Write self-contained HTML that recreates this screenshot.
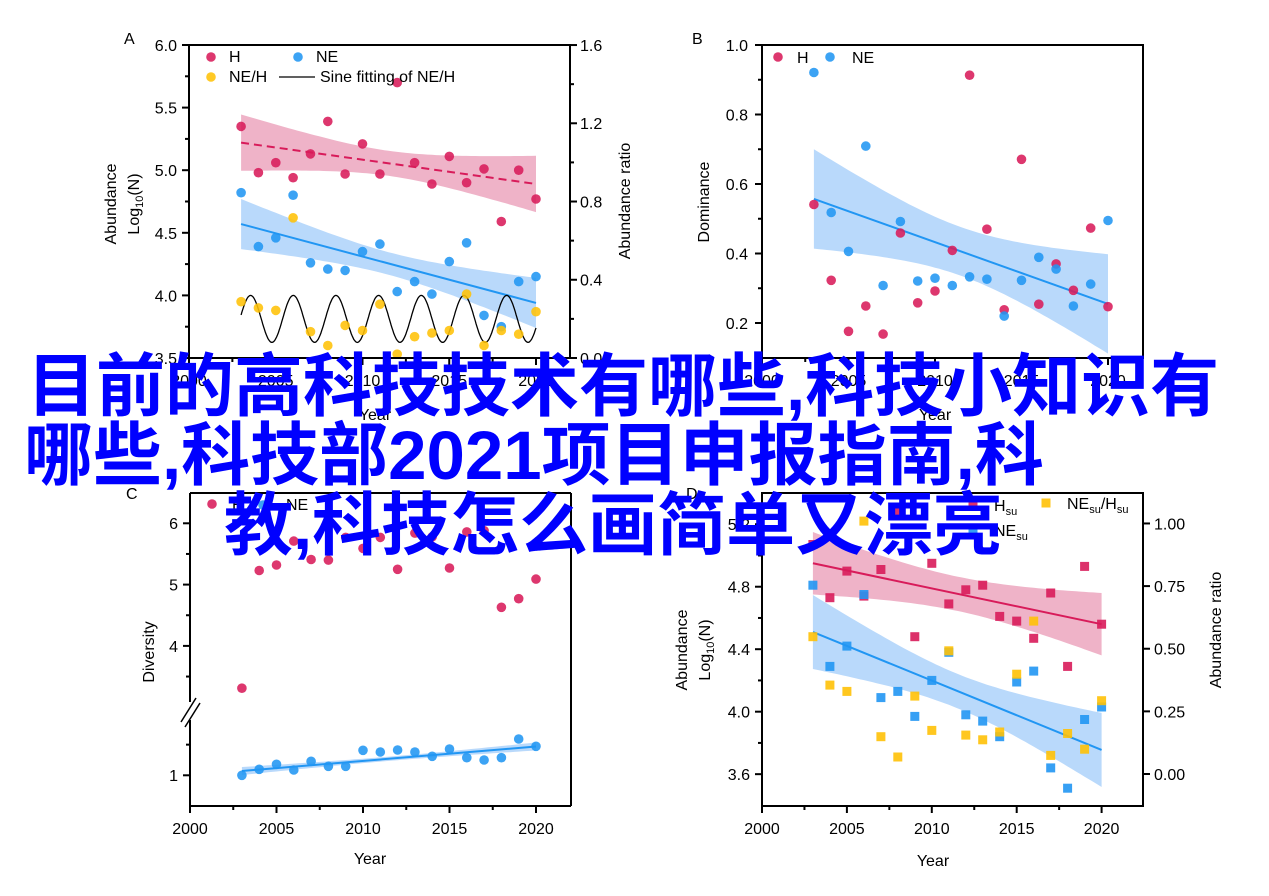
<!DOCTYPE html>
<html><head><meta charset="utf-8">
<style>
html,body{margin:0;padding:0;background:#fff;}
#wrap{position:relative;width:1269px;height:896px;overflow:hidden;background:#fff;}
svg{position:absolute;left:0;top:0;}
svg text{font-family:"Liberation Sans",Arial,sans-serif;font-size:16px;fill:#000;}
.ov{position:absolute;white-space:nowrap;font-family:"Liberation Sans","Noto Sans CJK SC",sans-serif;font-weight:bold;font-size:69px;line-height:69px;color:#0000ff;}
</style></head>
<body><div id="wrap">
<svg id="s" width="1269" height="896" viewBox="0 0 1269 896">
<g id="shapes"></g>
<g id="axes" stroke="#000" stroke-width="2" fill="none"></g>
<text x="124" y="44">A</text>
<text x="692" y="44">B</text>
<text x="126" y="499">C</text>
<text x="686" y="499">D</text>
<g text-anchor="end">
<text x="177" y="51">6.0</text><text x="177" y="113.6">5.5</text><text x="177" y="176.2">5.0</text>
<text x="177" y="238.8">4.5</text><text x="177" y="301.4">4.0</text><text x="177" y="364">3.5</text>
</g>
<g text-anchor="start">
<text x="580" y="51">1.6</text><text x="580" y="129.2">1.2</text><text x="580" y="207.4">0.8</text>
<text x="580" y="285.6">0.4</text><text x="580" y="364">0.0</text>
</g>
<g text-anchor="middle">
<text x="189" y="386">2000</text><text x="275.7" y="386">2005</text><text x="362.5" y="386">2010</text>
<text x="449.2" y="386">2015</text><text x="536" y="386">2020</text>
<text x="375" y="420">Year</text>
</g>
<text transform="translate(116,204) rotate(-90)" text-anchor="middle">Abundance</text>
<text transform="translate(139,204) rotate(-90)" text-anchor="middle">Log<tspan font-size="11" dy="4">10</tspan><tspan dy="-4">(N)</tspan></text>
<text transform="translate(630,201) rotate(-90)" text-anchor="middle">Abundance ratio</text>
<text x="229" y="62">H</text><text x="316" y="62">NE</text>
<text x="229" y="82">NE/H</text><text x="320" y="82">Sine fitting of NE/H</text>
<g text-anchor="end">
<text x="748" y="51">1.0</text><text x="748" y="120.5">0.8</text><text x="748" y="190">0.6</text>
<text x="748" y="259.5">0.4</text><text x="748" y="329">0.2</text>
</g>
<g text-anchor="middle">
<text x="762" y="386">2000</text><text x="848.5" y="386">2005</text><text x="935" y="386">2010</text>
<text x="1021.5" y="386">2015</text><text x="1108" y="386">2020</text>
<text x="935" y="420">Year</text>
</g>
<text transform="translate(709,202) rotate(-90)" text-anchor="middle">Dominance</text>
<text x="797" y="63">H</text><text x="852" y="63">NE</text>
<g text-anchor="end">
<text x="178" y="529">6</text><text x="178" y="590.6">5</text><text x="178" y="652">4</text><text x="178" y="781">1</text>
</g>
<g text-anchor="middle">
<text x="190" y="834">2000</text><text x="276.5" y="834">2005</text><text x="363" y="834">2010</text>
<text x="449.5" y="834">2015</text><text x="536" y="834">2020</text>
<text x="370" y="864">Year</text>
</g>
<text transform="translate(154,652) rotate(-90)" text-anchor="middle">Diversity</text>
<text x="232" y="510">H</text><text x="286" y="510">NE</text>
<g text-anchor="end">
<text x="750" y="530">5.2</text><text x="750" y="592.7">4.8</text><text x="750" y="655">4.4</text>
<text x="750" y="717.5">4.0</text><text x="750" y="780">3.6</text>
</g>
<g text-anchor="start">
<text x="1154" y="529.5">1.00</text><text x="1154" y="592">0.75</text><text x="1154" y="654.6">0.50</text>
<text x="1154" y="717.3">0.25</text><text x="1154" y="780">0.00</text>
</g>
<g text-anchor="middle">
<text x="762" y="834">2000</text><text x="846.9" y="834">2005</text><text x="931.8" y="834">2010</text>
<text x="1016.7" y="834">2015</text><text x="1101.6" y="834">2020</text>
<text x="933" y="866">Year</text>
</g>
<text transform="translate(687,650) rotate(-90)" text-anchor="middle">Abundance</text>
<text transform="translate(710,650) rotate(-90)" text-anchor="middle">Log<tspan font-size="11" dy="4">10</tspan><tspan dy="-4">(N)</tspan></text>
<text transform="translate(1221,630) rotate(-90)" text-anchor="middle">Abundance ratio</text>
<text x="994" y="511">H<tspan font-size="11" dy="4">su</tspan></text>
<text x="994" y="536">NE<tspan font-size="11" dy="4">su</tspan></text>
<text x="1067" y="509">NE<tspan font-size="11" dy="4">su</tspan><tspan dy="-4">/H</tspan><tspan font-size="11" dy="4">su</tspan></text>
</svg>
<div class="ov" style="left:27px;top:352px;">目前的高科技技术有哪些,科技小知识有</div>
<div class="ov" style="left:24px;top:421px;">哪些,科技部2021项目申报指南,科</div>
<div class="ov" style="left:224px;top:491px;">教,科技怎么画简单又漂亮</div>
</div>
<script>
(function(){
var R='#d81b5a',B='#2196f3',Y='#ffc107',PK='#efb3c8',LB='#b9d9fb';
var sh='',ax='';
var yrs=[];for(var t=2003;t<=2020;t++)yrs.push(t);
function circ(x,y,c){sh+='<circle cx="'+x.toFixed(1)+'" cy="'+y.toFixed(1)+'" r="4.8" fill="'+c+'" fill-opacity="0.88"/>';}
function sq(x,y,c){sh+='<rect x="'+(x-4.5).toFixed(1)+'" y="'+(y-4.5).toFixed(1)+'" width="9" height="9" fill="'+c+'" fill-opacity="0.9"/>';}
function band(f0,f1,hE,hM,X,Yf,col){
 var up=[],lo=[];
 for(var t=2003;t<=2020.001;t+=0.25){var f=f0+(f1-f0)*(t-2003)/17;var h=Math.sqrt(hM*hM+(hE*hE-hM*hM)*Math.pow((t-2011.5)/8.5,2));
 up.push(X(t).toFixed(1)+','+Yf(f+h).toFixed(1));lo.unshift(X(t).toFixed(1)+','+Yf(f-h).toFixed(1));}
 sh+='<polygon points="'+up.join(' ')+' '+lo.join(' ')+'" fill="'+col+'" stroke="none"/>';}
function fit(f0,f1,X,Yf,col,dash){sh+='<line x1="'+X(2003)+'" y1="'+Yf(f0)+'" x2="'+X(2020)+'" y2="'+Yf(f1)+'" stroke="'+col+'" stroke-width="2"'+(dash?' stroke-dasharray="8,5"':'')+'/>';}
function L(x1,y1,x2,y2){ax+='<line x1="'+x1+'" y1="'+y1+'" x2="'+x2+'" y2="'+y2+'"/>';}
function xt(X,yb,max){for(var t=2000;t<=max;t+=2.5){var m=(t%5===0);L(X(t),yb,X(t),yb+(m?7:4));}}
var AX=function(t){return 189+(t-2000)*17.35},AY=function(v){return 45+(6-v)*125.2};
var AH=[5.35,4.98,5.06,4.94,5.13,5.39,4.97,5.21,4.97,5.70,5.06,4.89,5.11,4.90,5.01,4.59,5.00,4.77];
var AN=[4.82,4.39,4.46,4.80,4.26,4.21,4.20,4.35,4.41,4.03,4.11,4.01,4.27,4.42,3.84,3.75,4.11,4.15];
var AR=[3.95,3.90,3.88,4.62,3.71,3.60,3.76,3.72,3.93,3.53,3.67,3.70,3.72,4.01,3.60,3.72,3.69,3.87];
band(5.22,4.89,0.225,0.1,AX,AY,PK);band(4.57,3.94,0.2,0.09,AX,AY,LB);
fit(5.22,4.89,AX,AY,R,true);fit(4.57,3.94,AX,AY,B,false);
var sp=[];for(var t=2003;t<=2020.001;t+=0.05){sp.push(AX(t).toFixed(1)+','+AY(3.8125+0.1875*Math.cos(2*Math.PI*(t-2003.55)/2.46)).toFixed(1));}
sh+='<polyline points="'+sp.join(' ')+'" fill="none" stroke="#000" stroke-width="1.3"/>';
yrs.forEach(function(t,i){circ(AX(t),AY(AH[i]),R);circ(AX(t),AY(AN[i]),B);circ(AX(t),AY(AR[i]),Y);});
circ(211,57,R);circ(298,57,B);circ(211,77,Y);
sh+='<line x1="279" y1="77" x2="315" y2="77" stroke="#000" stroke-width="1.3"/>';
ax+='<rect x="189" y="45" width="381" height="313"/>';
xt(AX,358,2021);
for(var v=3.5;v<=6.001;v+=0.25){var m=Math.abs(v*2-Math.round(v*2))<0.01;L(189,AY(v),189-(m?7:4),AY(v));}
for(var r=0;r<=1.601;r+=0.2){var yy=358-r*195.6;var m=Math.round(r*10)%4===0;L(570,yy,570+(m?7:4),yy);}
var BX=function(t){return 762+(t-2000)*17.3},BY=function(v){return 45+(1-v)*347.5};
var BH=[0.541,0.323,0.176,0.249,0.168,0.459,0.258,0.292,0.409,0.913,0.470,0.238,0.671,0.254,0.370,0.294,0.473,0.247];
var BN=[0.921,0.518,0.406,0.709,0.308,0.492,0.321,0.329,0.308,0.333,0.326,0.220,0.323,0.389,0.355,0.249,0.312,0.495];
band(0.557,0.255,0.143,0.07,BX,BY,LB);fit(0.557,0.255,BX,BY,B,false);
yrs.forEach(function(t,i){circ(BX(t),BY(BH[i]),R);circ(BX(t),BY(BN[i]),B);});
circ(778,57,R);circ(830,57,B);
ax+='<rect x="762" y="45" width="381" height="313"/>';
xt(BX,358,2021);
for(var k=1;k<=9;k++){var v=0.1*k+0.1;if(v>1.001)break;var m=(k%2===1);L(762,BY(v),762-(m?7:4),BY(v));}
var CX=function(t){return 190+(t-2000)*17.3},CU=function(v){return 523.3+(6-v)*61.3},CL=function(v){return 775.3-(v-1)*61.3};
var CH=[3.31,5.23,5.32,5.71,5.41,5.40,5.77,5.59,5.77,5.25,5.84,5.78,5.27,5.86,5.88,4.63,4.77,5.09];
var CNy=[886,868,853,870,844,859,859,811,816,810,816,829,807,833,840,833,777,799];
band(1.07,1.47,0.065,0.035,CX,CL,LB);fit(1.07,1.47,CX,CL,B,false);
yrs.forEach(function(t,i){circ(CX(t),CU(CH[i]),R);circ(CX(t),480+CNy[i]/3,B);});
circ(212,504,R);circ(263,505,B);
L(190,493,571,493);L(571,493,571,806);L(189,806,571,806);L(190,493,190,702);L(190,720,190,806);
ax+='<line x1="181" y1="722" x2="196" y2="698" stroke-width="1.5"/><line x1="185" y1="727" x2="200" y2="703" stroke-width="1.5"/>';
xt(CX,806,2021);
[6,5,4].forEach(function(v){L(190,CU(v),183,CU(v));});[5.5,4.5,3.5].forEach(function(v){L(190,CU(v),186,CU(v));});
L(190,CL(1),183,CL(1));L(190,CL(1.5),186,CL(1.5));
var DX=function(t){return 762+(t-2000)*16.98},DY=function(v){return 493+(5.40-v)*156.2};
var DH=[5.07,4.73,4.90,4.74,4.91,5.28,4.48,4.95,4.69,4.78,4.81,4.61,4.58,4.47,4.76,4.29,4.93,4.56];
var DN=[4.81,4.29,4.42,4.75,4.09,4.13,3.97,4.20,4.38,3.98,3.94,3.84,4.19,4.26,3.64,3.51,3.95,4.03];
var DR=[4.48,4.17,4.13,5.22,3.84,3.71,4.10,3.88,4.39,3.85,3.82,3.87,4.24,4.58,3.72,3.86,3.76,4.07];
band(4.95,4.56,0.2,0.11,DX,DY,PK);band(4.51,3.755,0.237,0.11,DX,DY,LB);
fit(4.95,4.56,DX,DY,R,false);fit(4.51,3.755,DX,DY,B,false);
yrs.forEach(function(t,i){sq(DX(t),DY(DH[i]),R);sq(DX(t),DY(DN[i]),B);sq(DX(t),DY(DR[i]),Y);});
sq(973,505,R);sq(973,530,B);sq(1046,503,Y);
ax+='<rect x="762" y="493" width="381" height="313"/>';
xt(DX,806,2022);
[5.2,4.8,4.4,4.0,3.6].forEach(function(v){L(762,DY(v),755,DY(v));});[5.0,4.6,4.2,3.8].forEach(function(v){L(762,DY(v),758,DY(v));});
[0,0.25,0.5,0.75,1].forEach(function(r){var yy=DY(3.601+1.604*r);L(1143,yy,1150,yy);});
document.getElementById('shapes').innerHTML=sh;
document.getElementById('axes').innerHTML=ax;
})();
</script>
</body></html>
